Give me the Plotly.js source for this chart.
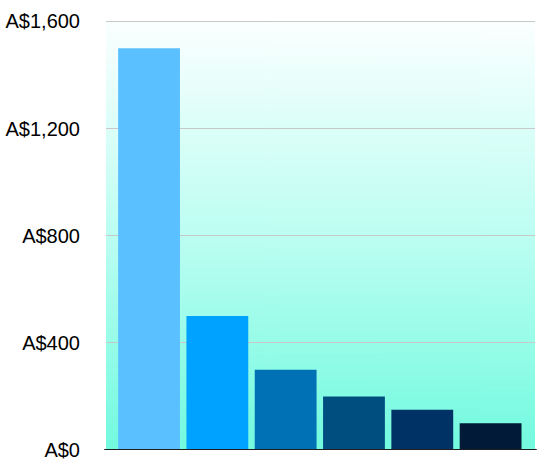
<!DOCTYPE html>
<html>
<head>
<meta charset="utf-8">
<script src="https://cdn.plot.ly/plotly-3.0.1.min.js"></script>
<style>
html,body{margin:0;padding:0;background:#fff;}
#chart{width:559px;height:471px;}
</style>
</head>
<body>
<div id="chart"></div>
<script>
// Data
var categories = ["A", "B", "C", "D", "E", "F"];
var values = [1500, 500, 300, 200, 150, 100];
var barColors = ["#5AC0FF", "#00A2FF", "#0071B5", "#004D80", "#003266", "#001A38"];
var tickValues = [0, 400, 800, 1200, 1600];
var tickLabels = ["A$0", "A$400", "A$800", "A$1,200", "A$1,600"];

// vertical gradient background for the plot area
function gradientURL() {
  var c = document.createElement('canvas');
  c.width = 4; c.height = 512;
  var ctx = c.getContext('2d');
  var g = ctx.createLinearGradient(0, 0, 0, 512);
  g.addColorStop(0, '#FBFFFF');
  g.addColorStop(0.5, '#BCFEF2');
  g.addColorStop(1, '#72FADF');
  ctx.fillStyle = g;
  ctx.fillRect(0, 0, 4, 512);
  return c.toDataURL('image/png');
}

var trace = {
  type: 'bar',
  x: [0, 1, 2, 3, 4, 5],
  y: values,
  marker: {color: barColors, line: {width: 0}},
  hoverinfo: 'none'
};

var layout = {
  width: 559,
  height: 471,
  margin: {l: 106, r: 24, t: 16, b: 21, pad: 0},
  paper_bgcolor: '#ffffff',
  plot_bgcolor: 'rgba(0,0,0,0)',
  showlegend: false,
  bargap: 0.095,
  font: {family: '"Liberation Sans", Arial, Helvetica, sans-serif', size: 20, color: '#000'},
  xaxis: {
    range: [-0.63, 5.65],
    showticklabels: false,
    showgrid: false,
    zeroline: false,
    showline: false,
    ticks: '',
    fixedrange: true
  },
  yaxis: {
    range: [0, 1620],
    tickvals: tickValues,
    ticktext: tickLabels,
    tickfont: {family: '"Liberation Sans", Arial, Helvetica, sans-serif', size: 20, color: '#000'},
    showgrid: true,
    gridcolor: '#C8C8C8',
    gridwidth: 1.3,
    zeroline: false,
    showline: false,
    ticks: 'outside',
    ticklen: 21,
    tickcolor: 'rgba(0,0,0,0)',
    fixedrange: true
  },
  shapes: [{
    type: 'line', xref: 'paper', yref: 'y',
    x0: -0.004, x1: 1.004, y0: 0, y1: 0,
    line: {color: '#1E1E1E', width: 2},
    layer: 'above'
  }],
  images: [{
    source: gradientURL(),
    xref: 'x', yref: 'y',
    x: -0.63, y: 1600, sizex: 6.28, sizey: 1600,
    xanchor: 'left', yanchor: 'top',
    sizing: 'stretch',
    layer: 'below'
  }]
};

Plotly.newPlot('chart', [trace], layout, {displayModeBar: false, staticPlot: true});
</script>
</body>
</html>
